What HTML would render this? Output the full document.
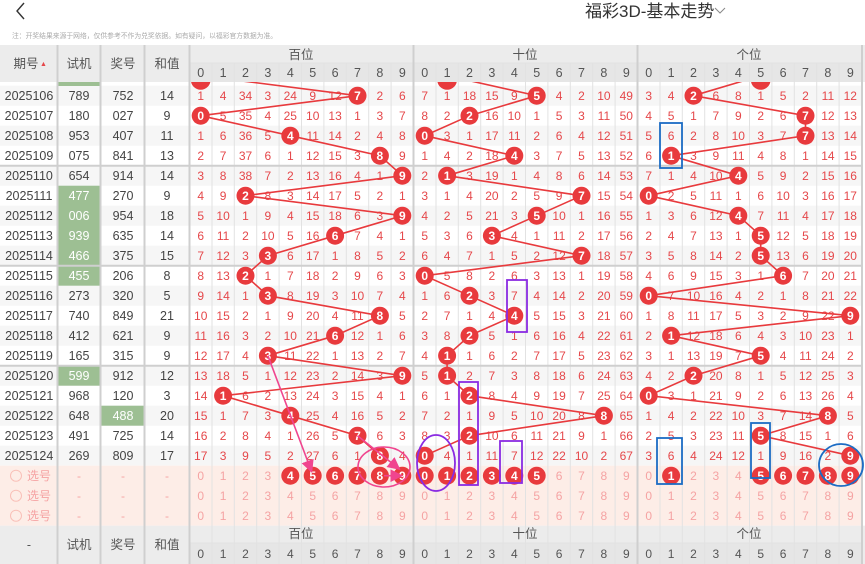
<!DOCTYPE html>
<html><head><meta charset="utf-8"><style>
html,body{margin:0;padding:0;background:#fff;}
svg{display:block;font-family:"Liberation Sans","Noto Sans CJK SC",sans-serif;}
.m{fill:#e5474a;font-size:12px;text-anchor:middle;}
.l{fill:#444;font-size:12.5px;text-anchor:middle;}
.w{fill:#fff;font-size:12px;font-weight:bold;text-anchor:middle;}
.p{fill:#f5a3a3;font-size:12px;text-anchor:middle;}
.h{fill:#555;font-size:12.5px;text-anchor:middle;}
</style></head><body>
<svg width="865" height="564" viewBox="0 0 865 564" xmlns="http://www.w3.org/2000/svg">
<defs>
<clipPath id="cp"><rect x="0" y="82" width="865" height="444"/></clipPath>
<marker id="ar" markerWidth="8" markerHeight="8" refX="6" refY="4" orient="auto"><path d="M0,0 L8,4 L0,8 z" fill="#f0458f"/></marker>
</defs>
<!-- top bar -->
<rect x="0" y="0" width="865" height="45" fill="#fff"/>
<polyline points="24,3 17,11 24,19" fill="none" stroke="#333" stroke-width="1.4"/>
<text x="585" y="17" font-size="17" fill="#333">福彩3D-基本走势</text>
<polyline points="715,8 720,13 725,8" fill="none" stroke="#888" stroke-width="1"/>
<text x="12" y="38" font-size="6.8" fill="#aaa">注：开奖结果来源于网络，仅供参考不作为兑奖依据。如有疑问，以福彩官方数据为准。</text>
<!-- header -->
<rect x="0" y="45" width="865" height="37" fill="#ececec"/>
<rect x="189.5" y="63" width="672" height="19" fill="#e6e6e6"/>
<text class="h" x="26" y="68">期号</text><text x="40" y="66" font-size="7" fill="#e5474a">▲</text>
<text class="h" x="79" y="68">试机</text><text class="h" x="123" y="68">奖号</text><text class="h" x="167" y="68">和值</text>
<text class="h" x="301" y="59">百位</text><text class="h" x="525" y="59">十位</text><text class="h" x="749" y="59">个位</text>
<g class="h" font-size="12">
<text y="77"><tspan x="200.7">0</tspan><tspan x="223.1">1</tspan><tspan x="245.5">2</tspan><tspan x="267.9">3</tspan><tspan x="290.3">4</tspan><tspan x="312.7">5</tspan><tspan x="335.1">6</tspan><tspan x="357.5">7</tspan><tspan x="379.9">8</tspan><tspan x="402.3">9</tspan><tspan x="424.7">0</tspan><tspan x="447.1">1</tspan><tspan x="469.5">2</tspan><tspan x="491.9">3</tspan><tspan x="514.3">4</tspan><tspan x="536.7">5</tspan><tspan x="559.1">6</tspan><tspan x="581.5">7</tspan><tspan x="603.9">8</tspan><tspan x="626.3">9</tspan><tspan x="648.7">0</tspan><tspan x="671.1">1</tspan><tspan x="693.5">2</tspan><tspan x="715.9">3</tspan><tspan x="738.3">4</tspan><tspan x="760.7">5</tspan><tspan x="783.1">6</tspan><tspan x="805.5">7</tspan><tspan x="827.9">8</tspan><tspan x="850.3">9</tspan></text>
</g>
<!-- row backgrounds -->
<g fill="#f6f6f6">
<rect x="0" y="85.7" width="862" height="20"/><rect x="0" y="125.7" width="862" height="20"/><rect x="0" y="165.7" width="862" height="20"/><rect x="0" y="205.7" width="862" height="20"/><rect x="0" y="245.7" width="862" height="20"/><rect x="0" y="285.7" width="862" height="20"/><rect x="0" y="325.7" width="862" height="20"/><rect x="0" y="365.7" width="862" height="20"/><rect x="0" y="405.7" width="862" height="20"/><rect x="0" y="445.7" width="862" height="20"/>
</g>
<g fill="#9dbf93">
<rect x="58" y="82" width="42" height="4"/>
<rect x="58" y="185.7" width="42" height="100"/><rect x="58" y="365.7" width="42" height="20"/><rect x="101" y="405.7" width="43" height="20"/>
</g>
<rect x="0" y="465.7" width="862" height="60" fill="#fdede7"/>
<!-- footer -->
<rect x="0" y="525.7" width="865" height="39" fill="#ececec"/>
<rect x="189.5" y="543" width="672" height="21" fill="#e6e6e6"/>
<!-- grid lines -->
<g stroke="#e2e2e2" stroke-width="1">
<line x1="212" y1="63" x2="212" y2="564"/><line x1="234.3" y1="63" x2="234.3" y2="564"/><line x1="256.7" y1="63" x2="256.7" y2="564"/><line x1="279.1" y1="63" x2="279.1" y2="564"/><line x1="301.5" y1="63" x2="301.5" y2="564"/><line x1="323.9" y1="63" x2="323.9" y2="564"/><line x1="346.3" y1="63" x2="346.3" y2="564"/><line x1="368.7" y1="63" x2="368.7" y2="564"/><line x1="391.1" y1="63" x2="391.1" y2="564"/>
<line x1="436" y1="63" x2="436" y2="564"/><line x1="458.3" y1="63" x2="458.3" y2="564"/><line x1="480.7" y1="63" x2="480.7" y2="564"/><line x1="503.1" y1="63" x2="503.1" y2="564"/><line x1="525.5" y1="63" x2="525.5" y2="564"/><line x1="547.9" y1="63" x2="547.9" y2="564"/><line x1="570.3" y1="63" x2="570.3" y2="564"/><line x1="592.7" y1="63" x2="592.7" y2="564"/><line x1="615.1" y1="63" x2="615.1" y2="564"/>
<line x1="660" y1="63" x2="660" y2="564"/><line x1="682.3" y1="63" x2="682.3" y2="564"/><line x1="704.7" y1="63" x2="704.7" y2="564"/><line x1="727.1" y1="63" x2="727.1" y2="564"/><line x1="749.5" y1="63" x2="749.5" y2="564"/><line x1="771.9" y1="63" x2="771.9" y2="564"/><line x1="794.3" y1="63" x2="794.3" y2="564"/><line x1="816.7" y1="63" x2="816.7" y2="564"/><line x1="839.1" y1="63" x2="839.1" y2="564"/>
<line x1="189.5" y1="63" x2="862" y2="63"/><line x1="189.5" y1="543" x2="862" y2="543"/>
</g>
<g stroke="#cfcfcf" stroke-width="2">
<line x1="57.5" y1="45" x2="57.5" y2="564"/><line x1="100.5" y1="45" x2="100.5" y2="564"/><line x1="144.5" y1="45" x2="144.5" y2="564"/><line x1="189.5" y1="45" x2="189.5" y2="564"/><line x1="413.5" y1="45" x2="413.5" y2="564"/><line x1="637.5" y1="45" x2="637.5" y2="564"/><line x1="862" y1="45" x2="862" y2="564"/>
<line x1="0" y1="165.7" x2="862" y2="165.7"/><line x1="0" y1="265.7" x2="862" y2="265.7"/><line x1="0" y1="365.7" x2="862" y2="365.7"/>
</g>
<!-- left columns -->
<g class="l">
<text y="100"><tspan x="29">2025106</tspan><tspan x="79">789</tspan><tspan x="123">752</tspan><tspan x="167">14</tspan></text>
<text y="120"><tspan x="29">2025107</tspan><tspan x="79">180</tspan><tspan x="123">027</tspan><tspan x="167">9</tspan></text>
<text y="140"><tspan x="29">2025108</tspan><tspan x="79">953</tspan><tspan x="123">407</tspan><tspan x="167">11</tspan></text>
<text y="160"><tspan x="29">2025109</tspan><tspan x="79">075</tspan><tspan x="123">841</tspan><tspan x="167">13</tspan></text>
<text y="180"><tspan x="29">2025110</tspan><tspan x="79">654</tspan><tspan x="123">914</tspan><tspan x="167">14</tspan></text>
<text y="200"><tspan x="29">2025111</tspan><tspan x="79" fill="#fff">477</tspan><tspan x="123">270</tspan><tspan x="167">9</tspan></text>
<text y="220"><tspan x="29">2025112</tspan><tspan x="79" fill="#fff">006</tspan><tspan x="123">954</tspan><tspan x="167">18</tspan></text>
<text y="240"><tspan x="29">2025113</tspan><tspan x="79" fill="#fff">939</tspan><tspan x="123">635</tspan><tspan x="167">14</tspan></text>
<text y="260"><tspan x="29">2025114</tspan><tspan x="79" fill="#fff">466</tspan><tspan x="123">375</tspan><tspan x="167">15</tspan></text>
<text y="280"><tspan x="29">2025115</tspan><tspan x="79" fill="#fff">455</tspan><tspan x="123">206</tspan><tspan x="167">8</tspan></text>
<text y="300"><tspan x="29">2025116</tspan><tspan x="79">273</tspan><tspan x="123">320</tspan><tspan x="167">5</tspan></text>
<text y="320"><tspan x="29">2025117</tspan><tspan x="79">740</tspan><tspan x="123">849</tspan><tspan x="167">21</tspan></text>
<text y="340"><tspan x="29">2025118</tspan><tspan x="79">412</tspan><tspan x="123">621</tspan><tspan x="167">9</tspan></text>
<text y="360"><tspan x="29">2025119</tspan><tspan x="79">165</tspan><tspan x="123">315</tspan><tspan x="167">9</tspan></text>
<text y="380"><tspan x="29">2025120</tspan><tspan x="79" fill="#fff">599</tspan><tspan x="123">912</tspan><tspan x="167">12</tspan></text>
<text y="400"><tspan x="29">2025121</tspan><tspan x="79">968</tspan><tspan x="123">120</tspan><tspan x="167">3</tspan></text>
<text y="420"><tspan x="29">2025122</tspan><tspan x="79">648</tspan><tspan x="123" fill="#fff">488</tspan><tspan x="167">20</tspan></text>
<text y="440"><tspan x="29">2025123</tspan><tspan x="79">491</tspan><tspan x="123">725</tspan><tspan x="167">14</tspan></text>
<text y="460"><tspan x="29">2025124</tspan><tspan x="79">269</tspan><tspan x="123">809</tspan><tspan x="167">17</tspan></text>
</g>
<!-- selection labels -->
<g fill="none" stroke="#f9c0b8" stroke-width="1"><circle cx="16" cy="475.7" r="5.5"/><circle cx="16" cy="495.7" r="5.5"/><circle cx="16" cy="515.7" r="5.5"/></g>
<g class="p">
<text y="480"><tspan x="39">选号</tspan><tspan x="79">-</tspan><tspan x="123">-</tspan><tspan x="167">-</tspan></text>
<text y="500"><tspan x="39">选号</tspan><tspan x="79">-</tspan><tspan x="123">-</tspan><tspan x="167">-</tspan></text>
<text y="520"><tspan x="39">选号</tspan><tspan x="79">-</tspan><tspan x="123">-</tspan><tspan x="167">-</tspan></text>
<text y="480"><tspan x="200.7">0</tspan><tspan x="223.1">1</tspan><tspan x="245.5">2</tspan><tspan x="267.9">3</tspan><tspan x="559.1">6</tspan><tspan x="581.5">7</tspan><tspan x="603.9">8</tspan><tspan x="626.3">9</tspan><tspan x="648.7">0</tspan><tspan x="693.5">2</tspan><tspan x="715.9">3</tspan><tspan x="738.3">4</tspan></text>
<text y="500"><tspan x="200.7">0</tspan><tspan x="223.1">1</tspan><tspan x="245.5">2</tspan><tspan x="267.9">3</tspan><tspan x="290.3">4</tspan><tspan x="312.7">5</tspan><tspan x="335.1">6</tspan><tspan x="357.5">7</tspan><tspan x="379.9">8</tspan><tspan x="402.3">9</tspan><tspan x="424.7">0</tspan><tspan x="447.1">1</tspan><tspan x="469.5">2</tspan><tspan x="491.9">3</tspan><tspan x="514.3">4</tspan><tspan x="536.7">5</tspan><tspan x="559.1">6</tspan><tspan x="581.5">7</tspan><tspan x="603.9">8</tspan><tspan x="626.3">9</tspan><tspan x="648.7">0</tspan><tspan x="671.1">1</tspan><tspan x="693.5">2</tspan><tspan x="715.9">3</tspan><tspan x="738.3">4</tspan><tspan x="760.7">5</tspan><tspan x="783.1">6</tspan><tspan x="805.5">7</tspan><tspan x="827.9">8</tspan><tspan x="850.3">9</tspan></text>
<text y="520"><tspan x="200.7">0</tspan><tspan x="223.1">1</tspan><tspan x="245.5">2</tspan><tspan x="267.9">3</tspan><tspan x="290.3">4</tspan><tspan x="312.7">5</tspan><tspan x="335.1">6</tspan><tspan x="357.5">7</tspan><tspan x="379.9">8</tspan><tspan x="402.3">9</tspan><tspan x="424.7">0</tspan><tspan x="447.1">1</tspan><tspan x="469.5">2</tspan><tspan x="491.9">3</tspan><tspan x="514.3">4</tspan><tspan x="536.7">5</tspan><tspan x="559.1">6</tspan><tspan x="581.5">7</tspan><tspan x="603.9">8</tspan><tspan x="626.3">9</tspan><tspan x="648.7">0</tspan><tspan x="671.1">1</tspan><tspan x="693.5">2</tspan><tspan x="715.9">3</tspan><tspan x="738.3">4</tspan><tspan x="760.7">5</tspan><tspan x="783.1">6</tspan><tspan x="805.5">7</tspan><tspan x="827.9">8</tspan><tspan x="850.3">9</tspan></text>
</g>
<!-- miss values -->
<g class="m">
<text y="100"><tspan x="200.7">1</tspan><tspan x="223.1">4</tspan><tspan x="245.5">34</tspan><tspan x="267.9">3</tspan><tspan x="290.3">24</tspan><tspan x="312.7">9</tspan><tspan x="335.1">12</tspan><tspan x="379.9">2</tspan><tspan x="402.3">6</tspan><tspan x="424.7">7</tspan><tspan x="447.1">1</tspan><tspan x="469.5">18</tspan><tspan x="491.9">15</tspan><tspan x="514.3">9</tspan><tspan x="559.1">4</tspan><tspan x="581.5">2</tspan><tspan x="603.9">10</tspan><tspan x="626.3">49</tspan><tspan x="648.7">3</tspan><tspan x="671.1">4</tspan><tspan x="715.9">6</tspan><tspan x="738.3">8</tspan><tspan x="760.7">1</tspan><tspan x="783.1">5</tspan><tspan x="805.5">2</tspan><tspan x="827.9">11</tspan><tspan x="850.3">12</tspan></text>
<text y="120"><tspan x="223.1">5</tspan><tspan x="245.5">35</tspan><tspan x="267.9">4</tspan><tspan x="290.3">25</tspan><tspan x="312.7">10</tspan><tspan x="335.1">13</tspan><tspan x="357.5">1</tspan><tspan x="379.9">3</tspan><tspan x="402.3">7</tspan><tspan x="424.7">8</tspan><tspan x="447.1">2</tspan><tspan x="491.9">16</tspan><tspan x="514.3">10</tspan><tspan x="536.7">1</tspan><tspan x="559.1">5</tspan><tspan x="581.5">3</tspan><tspan x="603.9">11</tspan><tspan x="626.3">50</tspan><tspan x="648.7">4</tspan><tspan x="671.1">5</tspan><tspan x="693.5">1</tspan><tspan x="715.9">7</tspan><tspan x="738.3">9</tspan><tspan x="760.7">2</tspan><tspan x="783.1">6</tspan><tspan x="827.9">12</tspan><tspan x="850.3">13</tspan></text>
<text y="140"><tspan x="200.7">1</tspan><tspan x="223.1">6</tspan><tspan x="245.5">36</tspan><tspan x="267.9">5</tspan><tspan x="312.7">11</tspan><tspan x="335.1">14</tspan><tspan x="357.5">2</tspan><tspan x="379.9">4</tspan><tspan x="402.3">8</tspan><tspan x="447.1">3</tspan><tspan x="469.5">1</tspan><tspan x="491.9">17</tspan><tspan x="514.3">11</tspan><tspan x="536.7">2</tspan><tspan x="559.1">6</tspan><tspan x="581.5">4</tspan><tspan x="603.9">12</tspan><tspan x="626.3">51</tspan><tspan x="648.7">5</tspan><tspan x="671.1">6</tspan><tspan x="693.5">2</tspan><tspan x="715.9">8</tspan><tspan x="738.3">10</tspan><tspan x="760.7">3</tspan><tspan x="783.1">7</tspan><tspan x="827.9">13</tspan><tspan x="850.3">14</tspan></text>
<text y="160"><tspan x="200.7">2</tspan><tspan x="223.1">7</tspan><tspan x="245.5">37</tspan><tspan x="267.9">6</tspan><tspan x="290.3">1</tspan><tspan x="312.7">12</tspan><tspan x="335.1">15</tspan><tspan x="357.5">3</tspan><tspan x="402.3">9</tspan><tspan x="424.7">1</tspan><tspan x="447.1">4</tspan><tspan x="469.5">2</tspan><tspan x="491.9">18</tspan><tspan x="536.7">3</tspan><tspan x="559.1">7</tspan><tspan x="581.5">5</tspan><tspan x="603.9">13</tspan><tspan x="626.3">52</tspan><tspan x="648.7">6</tspan><tspan x="693.5">3</tspan><tspan x="715.9">9</tspan><tspan x="738.3">11</tspan><tspan x="760.7">4</tspan><tspan x="783.1">8</tspan><tspan x="805.5">1</tspan><tspan x="827.9">14</tspan><tspan x="850.3">15</tspan></text>
<text y="180"><tspan x="200.7">3</tspan><tspan x="223.1">8</tspan><tspan x="245.5">38</tspan><tspan x="267.9">7</tspan><tspan x="290.3">2</tspan><tspan x="312.7">13</tspan><tspan x="335.1">16</tspan><tspan x="357.5">4</tspan><tspan x="379.9">1</tspan><tspan x="424.7">2</tspan><tspan x="469.5">3</tspan><tspan x="491.9">19</tspan><tspan x="514.3">1</tspan><tspan x="536.7">4</tspan><tspan x="559.1">8</tspan><tspan x="581.5">6</tspan><tspan x="603.9">14</tspan><tspan x="626.3">53</tspan><tspan x="648.7">7</tspan><tspan x="671.1">1</tspan><tspan x="693.5">4</tspan><tspan x="715.9">10</tspan><tspan x="760.7">5</tspan><tspan x="783.1">9</tspan><tspan x="805.5">2</tspan><tspan x="827.9">15</tspan><tspan x="850.3">16</tspan></text>
<text y="200"><tspan x="200.7">4</tspan><tspan x="223.1">9</tspan><tspan x="267.9">8</tspan><tspan x="290.3">3</tspan><tspan x="312.7">14</tspan><tspan x="335.1">17</tspan><tspan x="357.5">5</tspan><tspan x="379.9">2</tspan><tspan x="402.3">1</tspan><tspan x="424.7">3</tspan><tspan x="447.1">1</tspan><tspan x="469.5">4</tspan><tspan x="491.9">20</tspan><tspan x="514.3">2</tspan><tspan x="536.7">5</tspan><tspan x="559.1">9</tspan><tspan x="603.9">15</tspan><tspan x="626.3">54</tspan><tspan x="671.1">2</tspan><tspan x="693.5">5</tspan><tspan x="715.9">11</tspan><tspan x="738.3">1</tspan><tspan x="760.7">6</tspan><tspan x="783.1">10</tspan><tspan x="805.5">3</tspan><tspan x="827.9">16</tspan><tspan x="850.3">17</tspan></text>
<text y="220"><tspan x="200.7">5</tspan><tspan x="223.1">10</tspan><tspan x="245.5">1</tspan><tspan x="267.9">9</tspan><tspan x="290.3">4</tspan><tspan x="312.7">15</tspan><tspan x="335.1">18</tspan><tspan x="357.5">6</tspan><tspan x="379.9">3</tspan><tspan x="424.7">4</tspan><tspan x="447.1">2</tspan><tspan x="469.5">5</tspan><tspan x="491.9">21</tspan><tspan x="514.3">3</tspan><tspan x="559.1">10</tspan><tspan x="581.5">1</tspan><tspan x="603.9">16</tspan><tspan x="626.3">55</tspan><tspan x="648.7">1</tspan><tspan x="671.1">3</tspan><tspan x="693.5">6</tspan><tspan x="715.9">12</tspan><tspan x="760.7">7</tspan><tspan x="783.1">11</tspan><tspan x="805.5">4</tspan><tspan x="827.9">17</tspan><tspan x="850.3">18</tspan></text>
<text y="240"><tspan x="200.7">6</tspan><tspan x="223.1">11</tspan><tspan x="245.5">2</tspan><tspan x="267.9">10</tspan><tspan x="290.3">5</tspan><tspan x="312.7">16</tspan><tspan x="357.5">7</tspan><tspan x="379.9">4</tspan><tspan x="402.3">1</tspan><tspan x="424.7">5</tspan><tspan x="447.1">3</tspan><tspan x="469.5">6</tspan><tspan x="514.3">4</tspan><tspan x="536.7">1</tspan><tspan x="559.1">11</tspan><tspan x="581.5">2</tspan><tspan x="603.9">17</tspan><tspan x="626.3">56</tspan><tspan x="648.7">2</tspan><tspan x="671.1">4</tspan><tspan x="693.5">7</tspan><tspan x="715.9">13</tspan><tspan x="738.3">1</tspan><tspan x="783.1">12</tspan><tspan x="805.5">5</tspan><tspan x="827.9">18</tspan><tspan x="850.3">19</tspan></text>
<text y="260"><tspan x="200.7">7</tspan><tspan x="223.1">12</tspan><tspan x="245.5">3</tspan><tspan x="290.3">6</tspan><tspan x="312.7">17</tspan><tspan x="335.1">1</tspan><tspan x="357.5">8</tspan><tspan x="379.9">5</tspan><tspan x="402.3">2</tspan><tspan x="424.7">6</tspan><tspan x="447.1">4</tspan><tspan x="469.5">7</tspan><tspan x="491.9">1</tspan><tspan x="514.3">5</tspan><tspan x="536.7">2</tspan><tspan x="559.1">12</tspan><tspan x="603.9">18</tspan><tspan x="626.3">57</tspan><tspan x="648.7">3</tspan><tspan x="671.1">5</tspan><tspan x="693.5">8</tspan><tspan x="715.9">14</tspan><tspan x="738.3">2</tspan><tspan x="783.1">13</tspan><tspan x="805.5">6</tspan><tspan x="827.9">19</tspan><tspan x="850.3">20</tspan></text>
<text y="280"><tspan x="200.7">8</tspan><tspan x="223.1">13</tspan><tspan x="267.9">1</tspan><tspan x="290.3">7</tspan><tspan x="312.7">18</tspan><tspan x="335.1">2</tspan><tspan x="357.5">9</tspan><tspan x="379.9">6</tspan><tspan x="402.3">3</tspan><tspan x="447.1">5</tspan><tspan x="469.5">8</tspan><tspan x="491.9">2</tspan><tspan x="514.3">6</tspan><tspan x="536.7">3</tspan><tspan x="559.1">13</tspan><tspan x="581.5">1</tspan><tspan x="603.9">19</tspan><tspan x="626.3">58</tspan><tspan x="648.7">4</tspan><tspan x="671.1">6</tspan><tspan x="693.5">9</tspan><tspan x="715.9">15</tspan><tspan x="738.3">3</tspan><tspan x="760.7">1</tspan><tspan x="805.5">7</tspan><tspan x="827.9">20</tspan><tspan x="850.3">21</tspan></text>
<text y="300"><tspan x="200.7">9</tspan><tspan x="223.1">14</tspan><tspan x="245.5">1</tspan><tspan x="290.3">8</tspan><tspan x="312.7">19</tspan><tspan x="335.1">3</tspan><tspan x="357.5">10</tspan><tspan x="379.9">7</tspan><tspan x="402.3">4</tspan><tspan x="424.7">1</tspan><tspan x="447.1">6</tspan><tspan x="491.9">3</tspan><tspan x="514.3">7</tspan><tspan x="536.7">4</tspan><tspan x="559.1">14</tspan><tspan x="581.5">2</tspan><tspan x="603.9">20</tspan><tspan x="626.3">59</tspan><tspan x="671.1">7</tspan><tspan x="693.5">10</tspan><tspan x="715.9">16</tspan><tspan x="738.3">4</tspan><tspan x="760.7">2</tspan><tspan x="783.1">1</tspan><tspan x="805.5">8</tspan><tspan x="827.9">21</tspan><tspan x="850.3">22</tspan></text>
<text y="320"><tspan x="200.7">10</tspan><tspan x="223.1">15</tspan><tspan x="245.5">2</tspan><tspan x="267.9">1</tspan><tspan x="290.3">9</tspan><tspan x="312.7">20</tspan><tspan x="335.1">4</tspan><tspan x="357.5">11</tspan><tspan x="402.3">5</tspan><tspan x="424.7">2</tspan><tspan x="447.1">7</tspan><tspan x="469.5">1</tspan><tspan x="491.9">4</tspan><tspan x="536.7">5</tspan><tspan x="559.1">15</tspan><tspan x="581.5">3</tspan><tspan x="603.9">21</tspan><tspan x="626.3">60</tspan><tspan x="648.7">1</tspan><tspan x="671.1">8</tspan><tspan x="693.5">11</tspan><tspan x="715.9">17</tspan><tspan x="738.3">5</tspan><tspan x="760.7">3</tspan><tspan x="783.1">2</tspan><tspan x="805.5">9</tspan><tspan x="827.9">22</tspan></text>
<text y="340"><tspan x="200.7">11</tspan><tspan x="223.1">16</tspan><tspan x="245.5">3</tspan><tspan x="267.9">2</tspan><tspan x="290.3">10</tspan><tspan x="312.7">21</tspan><tspan x="357.5">12</tspan><tspan x="379.9">1</tspan><tspan x="402.3">6</tspan><tspan x="424.7">3</tspan><tspan x="447.1">8</tspan><tspan x="491.9">5</tspan><tspan x="514.3">1</tspan><tspan x="536.7">6</tspan><tspan x="559.1">16</tspan><tspan x="581.5">4</tspan><tspan x="603.9">22</tspan><tspan x="626.3">61</tspan><tspan x="648.7">2</tspan><tspan x="693.5">12</tspan><tspan x="715.9">18</tspan><tspan x="738.3">6</tspan><tspan x="760.7">4</tspan><tspan x="783.1">3</tspan><tspan x="805.5">10</tspan><tspan x="827.9">23</tspan><tspan x="850.3">1</tspan></text>
<text y="360"><tspan x="200.7">12</tspan><tspan x="223.1">17</tspan><tspan x="245.5">4</tspan><tspan x="290.3">11</tspan><tspan x="312.7">22</tspan><tspan x="335.1">1</tspan><tspan x="357.5">13</tspan><tspan x="379.9">2</tspan><tspan x="402.3">7</tspan><tspan x="424.7">4</tspan><tspan x="469.5">1</tspan><tspan x="491.9">6</tspan><tspan x="514.3">2</tspan><tspan x="536.7">7</tspan><tspan x="559.1">17</tspan><tspan x="581.5">5</tspan><tspan x="603.9">23</tspan><tspan x="626.3">62</tspan><tspan x="648.7">3</tspan><tspan x="671.1">1</tspan><tspan x="693.5">13</tspan><tspan x="715.9">19</tspan><tspan x="738.3">7</tspan><tspan x="783.1">4</tspan><tspan x="805.5">11</tspan><tspan x="827.9">24</tspan><tspan x="850.3">2</tspan></text>
<text y="380"><tspan x="200.7">13</tspan><tspan x="223.1">18</tspan><tspan x="245.5">5</tspan><tspan x="267.9">1</tspan><tspan x="290.3">12</tspan><tspan x="312.7">23</tspan><tspan x="335.1">2</tspan><tspan x="357.5">14</tspan><tspan x="379.9">3</tspan><tspan x="424.7">5</tspan><tspan x="469.5">2</tspan><tspan x="491.9">7</tspan><tspan x="514.3">3</tspan><tspan x="536.7">8</tspan><tspan x="559.1">18</tspan><tspan x="581.5">6</tspan><tspan x="603.9">24</tspan><tspan x="626.3">63</tspan><tspan x="648.7">4</tspan><tspan x="671.1">2</tspan><tspan x="715.9">20</tspan><tspan x="738.3">8</tspan><tspan x="760.7">1</tspan><tspan x="783.1">5</tspan><tspan x="805.5">12</tspan><tspan x="827.9">25</tspan><tspan x="850.3">3</tspan></text>
<text y="400"><tspan x="200.7">14</tspan><tspan x="245.5">6</tspan><tspan x="267.9">2</tspan><tspan x="290.3">13</tspan><tspan x="312.7">24</tspan><tspan x="335.1">3</tspan><tspan x="357.5">15</tspan><tspan x="379.9">4</tspan><tspan x="402.3">1</tspan><tspan x="424.7">6</tspan><tspan x="447.1">1</tspan><tspan x="491.9">8</tspan><tspan x="514.3">4</tspan><tspan x="536.7">9</tspan><tspan x="559.1">19</tspan><tspan x="581.5">7</tspan><tspan x="603.9">25</tspan><tspan x="626.3">64</tspan><tspan x="671.1">3</tspan><tspan x="693.5">1</tspan><tspan x="715.9">21</tspan><tspan x="738.3">9</tspan><tspan x="760.7">2</tspan><tspan x="783.1">6</tspan><tspan x="805.5">13</tspan><tspan x="827.9">26</tspan><tspan x="850.3">4</tspan></text>
<text y="420"><tspan x="200.7">15</tspan><tspan x="223.1">1</tspan><tspan x="245.5">7</tspan><tspan x="267.9">3</tspan><tspan x="312.7">25</tspan><tspan x="335.1">4</tspan><tspan x="357.5">16</tspan><tspan x="379.9">5</tspan><tspan x="402.3">2</tspan><tspan x="424.7">7</tspan><tspan x="447.1">2</tspan><tspan x="469.5">1</tspan><tspan x="491.9">9</tspan><tspan x="514.3">5</tspan><tspan x="536.7">10</tspan><tspan x="559.1">20</tspan><tspan x="581.5">8</tspan><tspan x="626.3">65</tspan><tspan x="648.7">1</tspan><tspan x="671.1">4</tspan><tspan x="693.5">2</tspan><tspan x="715.9">22</tspan><tspan x="738.3">10</tspan><tspan x="760.7">3</tspan><tspan x="783.1">7</tspan><tspan x="805.5">14</tspan><tspan x="850.3">5</tspan></text>
<text y="440"><tspan x="200.7">16</tspan><tspan x="223.1">2</tspan><tspan x="245.5">8</tspan><tspan x="267.9">4</tspan><tspan x="290.3">1</tspan><tspan x="312.7">26</tspan><tspan x="335.1">5</tspan><tspan x="379.9">6</tspan><tspan x="402.3">3</tspan><tspan x="424.7">8</tspan><tspan x="447.1">3</tspan><tspan x="491.9">10</tspan><tspan x="514.3">6</tspan><tspan x="536.7">11</tspan><tspan x="559.1">21</tspan><tspan x="581.5">9</tspan><tspan x="603.9">1</tspan><tspan x="626.3">66</tspan><tspan x="648.7">2</tspan><tspan x="671.1">5</tspan><tspan x="693.5">3</tspan><tspan x="715.9">23</tspan><tspan x="738.3">11</tspan><tspan x="783.1">8</tspan><tspan x="805.5">15</tspan><tspan x="827.9">1</tspan><tspan x="850.3">6</tspan></text>
<text y="460"><tspan x="200.7">17</tspan><tspan x="223.1">3</tspan><tspan x="245.5">9</tspan><tspan x="267.9">5</tspan><tspan x="290.3">2</tspan><tspan x="312.7">27</tspan><tspan x="335.1">6</tspan><tspan x="357.5">1</tspan><tspan x="402.3">4</tspan><tspan x="447.1">4</tspan><tspan x="469.5">1</tspan><tspan x="491.9">11</tspan><tspan x="514.3">7</tspan><tspan x="536.7">12</tspan><tspan x="559.1">22</tspan><tspan x="581.5">10</tspan><tspan x="603.9">2</tspan><tspan x="626.3">67</tspan><tspan x="648.7">3</tspan><tspan x="671.1">6</tspan><tspan x="693.5">4</tspan><tspan x="715.9">24</tspan><tspan x="738.3">12</tspan><tspan x="760.7">1</tspan><tspan x="783.1">9</tspan><tspan x="805.5">16</tspan><tspan x="827.9">2</tspan></text>
</g>
<!-- trend lines -->
<g clip-path="url(#cp)" fill="none" stroke="#e83a3d" stroke-width="1.6">
<polyline points="200.7,75.7 357.5,95.7 200.7,115.7 290.3,135.7 379.9,155.7 402.3,175.7 245.5,195.7 402.3,215.7 335.1,235.7 267.9,255.7 245.5,275.7 267.9,295.7 379.9,315.7 335.1,335.7 267.9,355.7 402.3,375.7 223.1,395.7 290.3,415.7 357.5,435.7 379.9,455.7"/>
<polyline points="447.1,75.7 536.7,95.7 469.5,115.7 424.7,135.7 514.3,155.7 447.1,175.7 581.5,195.7 536.7,215.7 491.9,235.7 581.5,255.7 424.7,275.7 469.5,295.7 514.3,315.7 469.5,335.7 447.1,355.7 447.1,375.7 469.5,395.7 603.9,415.7 469.5,435.7 424.7,455.7"/>
<polyline points="760.7,75.7 693.5,95.7 805.5,115.7 805.5,135.7 671.1,155.7 738.3,175.7 648.7,195.7 738.3,215.7 760.7,235.7 760.7,255.7 783.1,275.7 648.7,295.7 850.3,315.7 671.1,335.7 760.7,355.7 693.5,375.7 648.7,395.7 827.9,415.7 760.7,435.7 850.3,455.7"/>
<circle cx="200.7" cy="80" r="9" fill="#e83a3d"/><circle cx="447.1" cy="80" r="9" fill="#e83a3d"/><circle cx="760.7" cy="80" r="9" fill="#e83a3d"/>
</g>
<!-- winning circles -->
<g fill="#e83a3d">
<circle cx="357.5" cy="95.7" r="9"/><circle cx="536.7" cy="95.7" r="9"/><circle cx="693.5" cy="95.7" r="9"/>
<circle cx="200.7" cy="115.7" r="9"/><circle cx="469.5" cy="115.7" r="9"/><circle cx="805.5" cy="115.7" r="9"/>
<circle cx="290.3" cy="135.7" r="9"/><circle cx="424.7" cy="135.7" r="9"/><circle cx="805.5" cy="135.7" r="9"/>
<circle cx="379.9" cy="155.7" r="9"/><circle cx="514.3" cy="155.7" r="9"/><circle cx="671.1" cy="155.7" r="9"/>
<circle cx="402.3" cy="175.7" r="9"/><circle cx="447.1" cy="175.7" r="9"/><circle cx="738.3" cy="175.7" r="9"/>
<circle cx="245.5" cy="195.7" r="9"/><circle cx="581.5" cy="195.7" r="9"/><circle cx="648.7" cy="195.7" r="9"/>
<circle cx="402.3" cy="215.7" r="9"/><circle cx="536.7" cy="215.7" r="9"/><circle cx="738.3" cy="215.7" r="9"/>
<circle cx="335.1" cy="235.7" r="9"/><circle cx="491.9" cy="235.7" r="9"/><circle cx="760.7" cy="235.7" r="9"/>
<circle cx="267.9" cy="255.7" r="9"/><circle cx="581.5" cy="255.7" r="9"/><circle cx="760.7" cy="255.7" r="9"/>
<circle cx="245.5" cy="275.7" r="9"/><circle cx="424.7" cy="275.7" r="9"/><circle cx="783.1" cy="275.7" r="9"/>
<circle cx="267.9" cy="295.7" r="9"/><circle cx="469.5" cy="295.7" r="9"/><circle cx="648.7" cy="295.7" r="9"/>
<circle cx="379.9" cy="315.7" r="9"/><circle cx="514.3" cy="315.7" r="9"/><circle cx="850.3" cy="315.7" r="9"/>
<circle cx="335.1" cy="335.7" r="9"/><circle cx="469.5" cy="335.7" r="9"/><circle cx="671.1" cy="335.7" r="9"/>
<circle cx="267.9" cy="355.7" r="9"/><circle cx="447.1" cy="355.7" r="9"/><circle cx="760.7" cy="355.7" r="9"/>
<circle cx="402.3" cy="375.7" r="9"/><circle cx="447.1" cy="375.7" r="9"/><circle cx="693.5" cy="375.7" r="9"/>
<circle cx="223.1" cy="395.7" r="9"/><circle cx="469.5" cy="395.7" r="9"/><circle cx="648.7" cy="395.7" r="9"/>
<circle cx="290.3" cy="415.7" r="9"/><circle cx="603.9" cy="415.7" r="9"/><circle cx="827.9" cy="415.7" r="9"/>
<circle cx="357.5" cy="435.7" r="9"/><circle cx="469.5" cy="435.7" r="9"/><circle cx="760.7" cy="435.7" r="9"/>
<circle cx="379.9" cy="455.7" r="9"/><circle cx="424.7" cy="455.7" r="9"/><circle cx="850.3" cy="455.7" r="9"/>
<circle cx="290.3" cy="475.7" r="9"/><circle cx="312.7" cy="475.7" r="9"/><circle cx="335.1" cy="475.7" r="9"/><circle cx="357.5" cy="475.7" r="9"/><circle cx="379.9" cy="475.7" r="9"/><circle cx="402.3" cy="475.7" r="9"/>
<circle cx="424.7" cy="475.7" r="9"/><circle cx="447.1" cy="475.7" r="9"/><circle cx="469.5" cy="475.7" r="9"/><circle cx="491.9" cy="475.7" r="9"/><circle cx="514.3" cy="475.7" r="9"/><circle cx="536.7" cy="475.7" r="9"/>
<circle cx="671.1" cy="475.7" r="9"/><circle cx="760.7" cy="475.7" r="9"/><circle cx="783.1" cy="475.7" r="9"/><circle cx="805.5" cy="475.7" r="9"/><circle cx="827.9" cy="475.7" r="9"/><circle cx="850.3" cy="475.7" r="9"/>
</g>
<g class="w">
<text y="100"><tspan x="357.5">7</tspan><tspan x="536.7">5</tspan><tspan x="693.5">2</tspan></text>
<text y="120"><tspan x="200.7">0</tspan><tspan x="469.5">2</tspan><tspan x="805.5">7</tspan></text>
<text y="140"><tspan x="290.3">4</tspan><tspan x="424.7">0</tspan><tspan x="805.5">7</tspan></text>
<text y="160"><tspan x="379.9">8</tspan><tspan x="514.3">4</tspan><tspan x="671.1">1</tspan></text>
<text y="180"><tspan x="402.3">9</tspan><tspan x="447.1">1</tspan><tspan x="738.3">4</tspan></text>
<text y="200"><tspan x="245.5">2</tspan><tspan x="581.5">7</tspan><tspan x="648.7">0</tspan></text>
<text y="220"><tspan x="402.3">9</tspan><tspan x="536.7">5</tspan><tspan x="738.3">4</tspan></text>
<text y="240"><tspan x="335.1">6</tspan><tspan x="491.9">3</tspan><tspan x="760.7">5</tspan></text>
<text y="260"><tspan x="267.9">3</tspan><tspan x="581.5">7</tspan><tspan x="760.7">5</tspan></text>
<text y="280"><tspan x="245.5">2</tspan><tspan x="424.7">0</tspan><tspan x="783.1">6</tspan></text>
<text y="300"><tspan x="267.9">3</tspan><tspan x="469.5">2</tspan><tspan x="648.7">0</tspan></text>
<text y="320"><tspan x="379.9">8</tspan><tspan x="514.3">4</tspan><tspan x="850.3">9</tspan></text>
<text y="340"><tspan x="335.1">6</tspan><tspan x="469.5">2</tspan><tspan x="671.1">1</tspan></text>
<text y="360"><tspan x="267.9">3</tspan><tspan x="447.1">1</tspan><tspan x="760.7">5</tspan></text>
<text y="380"><tspan x="402.3">9</tspan><tspan x="447.1">1</tspan><tspan x="693.5">2</tspan></text>
<text y="400"><tspan x="223.1">1</tspan><tspan x="469.5">2</tspan><tspan x="648.7">0</tspan></text>
<text y="420"><tspan x="290.3">4</tspan><tspan x="603.9">8</tspan><tspan x="827.9">8</tspan></text>
<text y="440"><tspan x="357.5">7</tspan><tspan x="469.5">2</tspan><tspan x="760.7">5</tspan></text>
<text y="460"><tspan x="379.9">8</tspan><tspan x="424.7">0</tspan><tspan x="850.3">9</tspan></text>
<text y="480"><tspan x="290.3">4</tspan><tspan x="312.7">5</tspan><tspan x="335.1">6</tspan><tspan x="357.5">7</tspan><tspan x="379.9">8</tspan><tspan x="402.3">9</tspan><tspan x="424.7">0</tspan><tspan x="447.1">1</tspan><tspan x="469.5">2</tspan><tspan x="491.9">3</tspan><tspan x="514.3">4</tspan><tspan x="536.7">5</tspan><tspan x="671.1">1</tspan><tspan x="760.7">5</tspan><tspan x="783.1">6</tspan><tspan x="805.5">7</tspan><tspan x="827.9">8</tspan><tspan x="850.3">9</tspan></text>
</g>
<!-- annotations -->
<g fill="none" stroke="#f0458f" stroke-width="1.6">
<line x1="267.9" y1="355.7" x2="311" y2="470" marker-end="url(#ar)"/>
<line x1="357.5" y1="435.7" x2="398" y2="468" marker-end="url(#ar)"/>
<line x1="384" y1="475.7" x2="400" y2="475.7" marker-end="url(#ar)"/>
<ellipse cx="384" cy="467" rx="26" ry="20"/>
</g>
<g fill="none" stroke="#8a2be2" stroke-width="1.8">
<ellipse cx="436" cy="463" rx="19" ry="28"/>
<rect x="459" y="382" width="19" height="103"/>
<rect x="507" y="280" width="20" height="52"/>
<rect x="500" y="441" width="22" height="42"/>
</g>
<g fill="none" stroke="#1c6cc4" stroke-width="1.8">
<rect x="660" y="123" width="22" height="45"/>
<rect x="657" y="438" width="25" height="46"/>
<rect x="751" y="423" width="19" height="55"/>
<ellipse cx="841" cy="465" rx="22" ry="21"/>
</g>
<!-- footer text -->
<g class="h">
<text x="29" y="549">-</text><text x="79" y="549">试机</text><text x="123" y="549">奖号</text><text x="167" y="549">和值</text>
<text x="301" y="538">百位</text><text x="525" y="538">十位</text><text x="749" y="538">个位</text>
<text y="558" font-size="12"><tspan x="200.7">0</tspan><tspan x="223.1">1</tspan><tspan x="245.5">2</tspan><tspan x="267.9">3</tspan><tspan x="290.3">4</tspan><tspan x="312.7">5</tspan><tspan x="335.1">6</tspan><tspan x="357.5">7</tspan><tspan x="379.9">8</tspan><tspan x="402.3">9</tspan><tspan x="424.7">0</tspan><tspan x="447.1">1</tspan><tspan x="469.5">2</tspan><tspan x="491.9">3</tspan><tspan x="514.3">4</tspan><tspan x="536.7">5</tspan><tspan x="559.1">6</tspan><tspan x="581.5">7</tspan><tspan x="603.9">8</tspan><tspan x="626.3">9</tspan><tspan x="648.7">0</tspan><tspan x="671.1">1</tspan><tspan x="693.5">2</tspan><tspan x="715.9">3</tspan><tspan x="738.3">4</tspan><tspan x="760.7">5</tspan><tspan x="783.1">6</tspan><tspan x="805.5">7</tspan><tspan x="827.9">8</tspan><tspan x="850.3">9</tspan></text>
</g>
</svg>
</body></html>
